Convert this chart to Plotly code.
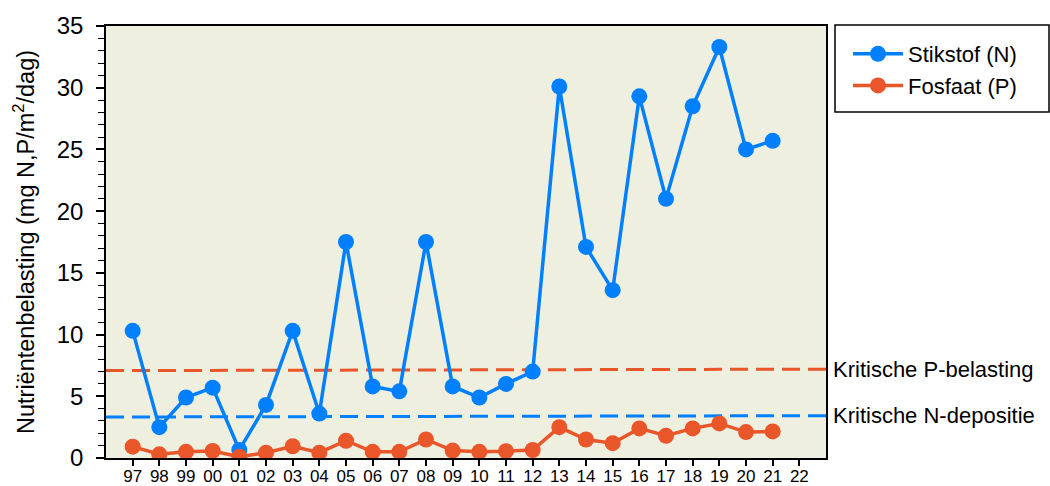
import plotly.graph_objects as go

years = ["97","98","99","00","01","02","03","04","05","06","07","08","09",
         "10","11","12","13","14","15","16","17","18","19","20","21","22"]
stikstof = [10.3, 2.5, 4.9, 5.7, 0.65, 4.3, 10.3, 3.6, 17.5, 5.8, 5.4, 17.5, 5.8,
            4.9, 6.0, 7.0, 30.1, 17.1, 13.6, 29.3, 21.0, 28.5, 33.3, 25.0, 25.7, None]
fosfaat = [0.92, 0.3, 0.5, 0.57, 0.1, 0.43, 0.95, 0.43, 1.4, 0.5, 0.5, 1.5, 0.6,
           0.5, 0.55, 0.65, 2.5, 1.5, 1.2, 2.4, 1.8, 2.4, 2.8, 2.1, 2.15, None]
krit_P = [7.08, 7.2]   # left, right end
krit_N = [3.32, 3.43]

BLUE = "#0080FF"
ORANGE = "#E8562A"
FONT = "Liberation Sans, Arial, sans-serif"

W, H = 1050, 486
L, R, T, B = 106, 224, 26, 28
PW = W - L - R

x_idx = list(range(len(years)))

fig = go.Figure()
fig.add_trace(go.Scatter(x=[-1, 26], y=krit_P, mode="lines", showlegend=False,
                         line=dict(color=ORANGE, width=3, dash="18px,8px"), hoverinfo="skip"))
fig.add_trace(go.Scatter(x=[-1, 26], y=krit_N, mode="lines", showlegend=False,
                         line=dict(color=BLUE, width=3, dash="18px,8px"), hoverinfo="skip"))
fig.add_trace(go.Scatter(x=x_idx, y=stikstof, mode="lines+markers", name="Stikstof (N)",
                         line=dict(color=BLUE, width=3.5), marker=dict(color=BLUE, size=16)))
fig.add_trace(go.Scatter(x=x_idx, y=fosfaat, mode="lines+markers", name="Fosfaat (P)",
                         line=dict(color=ORANGE, width=3.5), marker=dict(color=ORANGE, size=16)))

fig.add_annotation(x=1.0, xref="paper", xanchor="left", xshift=5, y=krit_P[1], yref="y",
                   text="Kritische P-belasting", showarrow=False,
                   font=dict(size=22, color="black", family=FONT))
fig.add_annotation(x=1.0, xref="paper", xanchor="left", xshift=5, y=krit_N[1], yref="y",
                   text="Kritische N-depositie", showarrow=False,
                   font=dict(size=22, color="black", family=FONT))
# y-axis title
fig.add_annotation(x=(24 - L) / PW, xref="paper", xanchor="center", y=0.5, yref="paper",
                   yanchor="middle", textangle=-90, showarrow=False,
                   text="Nutriëntenbelasting (mg N,P/m<sup>2</sup>/dag)",
                   font=dict(size=23.5, color="black", family=FONT))
# legend border box
fig.add_shape(type="rect", xref="paper", yref="paper",
              x0=(835 - L) / PW, x1=(1049 - L) / PW,
              y0=(H - B - 112) / (H - T - B), y1=(H - B - 25) / (H - T - B),
              line=dict(color="black", width=1.5), fillcolor="white", layer="below")

fig.update_layout(
    width=W, height=H,
    margin=dict(l=L, r=R, t=T, b=B, autoexpand=False),
    paper_bgcolor="white",
    plot_bgcolor="#EFEFE0",
    font=dict(family=FONT, color="black"),
    legend=dict(xref="container", yref="container", x=848 / W, xanchor="left",
                y=1 - 33 / H, yanchor="top", borderwidth=0, bgcolor="rgba(0,0,0,0)",
                font=dict(size=22, family=FONT), itemwidth=50, tracegroupgap=0),
    showlegend=True,
)
fig.update_xaxes(
    range=[-1, 26], tickmode="array", tickvals=x_idx, ticktext=years,
    ticks="outside", ticklen=6, tickwidth=1.5, tickcolor="black",
    showline=True, linecolor="black", linewidth=1.5, mirror=True, automargin=False,
    showgrid=False, zeroline=False, tickfont=dict(size=17, family=FONT),
    ticklabelstandoff=-4,
)
fig.update_yaxes(
    range=[0, 35], tickmode="linear", dtick=5, tick0=0,
    ticks="outside", ticklen=8, tickwidth=1.5, tickcolor="black",
    minor=dict(dtick=1, ticks="outside", ticklen=6, tickwidth=1, tickcolor="black", showgrid=False),
    showline=True, linecolor="black", linewidth=1.5, mirror=True, automargin=False,
    showgrid=False, zeroline=False, tickfont=dict(size=24, family=FONT),
    ticklabelstandoff=8,
)

fig.write_html("out.html", config={"displayModeBar": False},
               post_script="document.body.style.margin='0';document.body.style.overflow='hidden';")
